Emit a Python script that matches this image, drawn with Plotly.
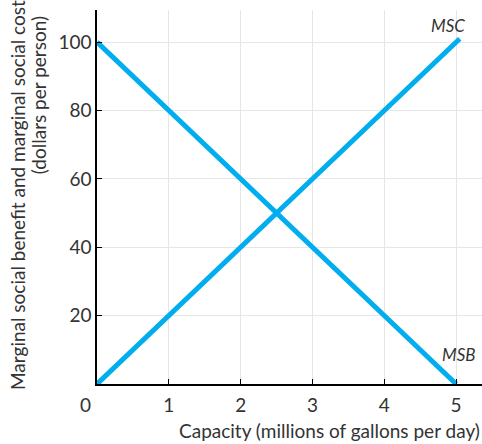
import plotly.graph_objects as go

capacity = [0, 5]
msb_values = [100, 0]
msc_capacity = [0, 5.05]
msc_values = [0, 101]
x_ticks = [1, 2, 3, 4, 5]
y_ticks = [20, 40, 60, 80, 100]

LINE = "#00AEEF"
TXT = "#333333"
FONT = "Lato"
FS = 19

fig = go.Figure()
fig.add_trace(go.Scatter(x=capacity, y=msb_values, mode="lines",
                         line=dict(color=LINE, width=5), hoverinfo="skip"))
fig.add_trace(go.Scatter(x=msc_capacity, y=msc_values, mode="lines",
                         line=dict(color=LINE, width=5), hoverinfo="skip"))

fig.update_layout(
    width=482, height=444,
    margin=dict(l=97, r=0, t=10, b=60),
    plot_bgcolor="white", paper_bgcolor="white",
    showlegend=False,
    font=dict(family=FONT, size=FS, color=TXT),
    xaxis=dict(range=[0, 5.36], tickvals=x_ticks, ticks="inside", ticklen=5,
               tickcolor="black", showline=True, linecolor="black", linewidth=1.5,
               showgrid=True, gridcolor="#e6e6e6", gridwidth=1, zeroline=False,
               ticklabelstandoff=3, tickfont=dict(size=FS, color=TXT)),
    yaxis=dict(range=[0, 109.4], tickvals=y_ticks, ticks="inside", ticklen=5,
               tickcolor="black", showline=True, linecolor="black", linewidth=1.5,
               showgrid=True, gridcolor="#e6e6e6", gridwidth=1, zeroline=False,
               tickfont=dict(size=FS, color=TXT)),
)

ann = [
    dict(text="0", x=-0.031, y=-0.0535, xref="paper", yref="paper",
         xanchor="center", yanchor="middle",
         showarrow=False, font=dict(size=FS, color=TXT)),
    dict(text="Capacity (millions of gallons per day)", x=1.0, y=-0.123,
         xref="paper", yref="paper", xanchor="right", yanchor="middle",
         showarrow=False, font=dict(size=FS, color=TXT)),
    dict(text="Marginal social benefit and marginal social cost", textangle=-90,
         x=-0.2078, y=-0.0214, xref="paper", yref="paper", xanchor="center",
         yanchor="bottom", showarrow=False, font=dict(size=FS, color=TXT)),
    dict(text="(dollars per person)", textangle=-90,
         x=-0.153, y=0.989, xref="paper", yref="paper", xanchor="center",
         yanchor="top", showarrow=False, font=dict(size=FS, color=TXT)),
    dict(text="<i>MSC</i>", x=4.89, y=105, xref="x", yref="y",
         xanchor="center", yanchor="middle",
         showarrow=False, font=dict(size=17, color=TXT)),
    dict(text="<i>MSB</i>", x=5.04, y=8.5, xref="x", yref="y",
         xanchor="center", yanchor="middle",
         showarrow=False, font=dict(size=17, color=TXT)),
]
fig.update_layout(annotations=ann)

fig.write_html("out.html", config={"displayModeBar": False},
               post_script="document.body.style.margin='0';document.body.style.overflow='hidden';")
